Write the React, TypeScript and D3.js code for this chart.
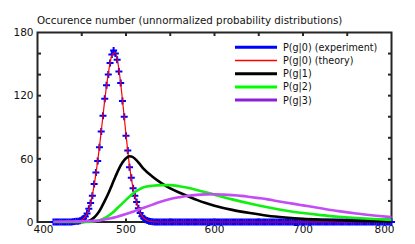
import React from "react";
import * as d3 from "d3";

// ---------- data ----------
const expStart = 418;
const expStep = 2;
const expValues = [
  0, 0, 0, 0, 0, 0, 0, 0, 0, 0, 0,
  0.3, 0.4, 0.6, 0.8, 1.3, 2.1, 3.3, 5.2, 8, 12.5,
  18, 25, 36, 47, 58, 71, 86, 101, 117, 130,
  140, 151, 159, 163, 160, 154, 143, 132, 115, 100,
  82, 68, 52, 42, 32, 25, 19, 13, 8.5, 5.5,
  3.5, 2.2, 1.4, 0.8, 0.5, 0.3, 0.1,
  0, 0, 0, 0, 0, 0, 0, 0, 0, 0, 0, 0, 0, 0, 0, 0, 0, 0, 0, 0,
  0, 0, 0, 0, 0, 0, 0, 0, 0, 0, 0, 0, 0, 0, 0, 0, 0, 0, 0, 0,
  0, 0, 0, 0, 0, 0, 0, 0, 0, 0, 0, 0, 0, 0, 0, 0, 0, 0, 0, 0,
  0, 0, 0, 0, 0, 0, 0, 0, 0, 0, 0, 0, 0, 0, 0, 0, 0, 0, 0, 0,
  0, 0, 0, 0, 0, 0, 0, 0, 0, 0, 0, 0, 0, 0, 0, 0, 0, 0, 0, 0,
  0, 0, 0, 0, 0, 0, 0, 0, 0, 0, 0, 0, 0, 0, 0, 0, 0, 0, 0, 0,
  0, 0, 0, 0, 0, 0, 0, 0, 0, 0, 0, 0, 0, 0,
];

const theoryX = [418, 436, 440, 444, 448, 452, 456, 460, 464, 468, 472, 476, 480, 484, 488, 492, 496, 500, 504, 508, 512, 516, 520, 524, 528, 532, 540, 800];
const theoryY = [0, 0, 0.3, 0.6, 1.2, 3.2, 7.8, 18, 35, 58, 86, 116, 141, 158, 161, 145, 116, 83, 53, 32, 18.5, 8.5, 3.6, 1.4, 0.5, 0.1, 0, 0];

const g1X = [418, 452, 456, 460, 464, 468, 472, 476, 480, 484, 488, 492, 496, 500, 504, 508, 512, 516, 520, 530, 540, 550, 560, 570, 580, 590, 600, 620, 640, 660, 680, 700, 720, 740, 760, 780, 800];
const g1Y = [0, 0, 0.6, 1.8, 4.2, 8, 13.5, 20, 27, 35, 43, 50.5, 56.5, 60.5, 62.5, 61.5, 58.5, 54.5, 50.5, 43, 37, 32, 28, 24.5, 21, 18, 15.5, 11.5, 8.5, 6, 4.3, 3, 2.2, 1.6, 1.1, 0.8, 0.6];

const g2X = [418, 455, 460, 465, 470, 475, 480, 485, 490, 495, 500, 505, 510, 515, 520, 530, 540, 550, 560, 570, 580, 590, 600, 620, 640, 660, 680, 700, 720, 740, 760, 780, 800];
const g2Y = [0, 0.1, 0.3, 0.8, 1.6, 3.3, 5.8, 9, 13, 17, 21, 25, 28.5, 31, 33, 34.5, 35, 35, 34, 32.5, 30.5, 28.3, 26, 21.5, 17.5, 14, 11, 8.5, 6.5, 5, 3.8, 2.8, 2];

const g3X = [418, 440, 460, 470, 480, 490, 500, 510, 520, 530, 540, 550, 560, 570, 580, 590, 600, 610, 620, 630, 640, 650, 660, 670, 680, 690, 700, 720, 740, 760, 780, 800];
const g3Y = [0.2, 0.5, 1, 1.5, 3, 5, 7.5, 10.5, 13.5, 16.5, 19.5, 21.8, 23.5, 25, 25.8, 26.2, 26.3, 26, 25.5, 24.8, 23.8, 22.7, 21.5, 20, 18.6, 17.2, 15.8, 13, 10.3, 8, 6.2, 4.6];

const xTickLabels = [400, 500, 600, 700, 800];
const yTickLabels = [0, 60, 120, 180];
const xMinorTicks = [450, 500, 550, 600, 650, 700, 750];
const yMinorTicks = [20, 40, 60, 80, 100, 120, 140, 160];

const legendLabels = ["P(g|0) (experiment)", "P(g|0) (theory)", "P(g|1)", "P(g|2)", "P(g|3)"];
const legendColors = ["#0000ff", "#ff0000", "#000000", "#00ff00", "#8f1fd6"];
const legendWidths = [3, 1.5, 3, 3, 3];

const title = "Occurence number (unnormalized probability distributions)";

// ---------- layout ----------
const W = 415;
const H = 244;
const L = 37.5;
const R = 391.5;
const T = 32.5;
const B = 222;
const FONT = "DejaVu Sans, sans-serif";
const AXC = "#262626";

export default function App() {
  const x = d3.scaleLinear().domain([400, 800]).range([L, R]);
  const y = d3.scaleLinear().domain([0, 180]).range([B, T]);

  const line = d3
    .line<[number, number]>()
    .x((d) => x(d[0]))
    .y((d) => y(d[1]))
    .curve(d3.curveMonotoneX);

  const expPts: [number, number][] = expValues.map((v, i) => [expStart + i * expStep, v]);
  const zip = (xs: number[], ys: number[]) => xs.map((v, i) => [v, ys[i]] as [number, number]);

  const series = [
    { pts: zip(g1X, g1Y), color: "#000000", w: 2.6 },
    { pts: zip(g2X, g2Y), color: "#10f010", w: 2.6 },
    { pts: zip(g3X, g3Y), color: "#c44cf4", w: 2.6 },
  ];

  const ms = 3.5;

  return (
    <svg
      width={W}
      height={H}
      style={{ position: "absolute", left: 0, top: 0, background: "#fff" }}
      fontFamily={FONT}
    >
      <rect x={0} y={0} width={W} height={H} fill="#fff" />
      <text x={L - 0.5} y={24} fontSize={10.3} fill="#111">
        {title}
      </text>

      {/* axes box */}
      <rect x={L} y={T} width={R - L} height={B - T} fill="none" stroke={AXC} strokeWidth={2} />
      {xMinorTicks.map((t) => (
        <g key={"xt" + t}>
          <line x1={x(t)} x2={x(t)} y1={T} y2={T + 3.5} stroke={AXC} strokeWidth={2} />
          <line x1={x(t)} x2={x(t)} y1={B} y2={B - 3.5} stroke={AXC} strokeWidth={2} />
        </g>
      ))}
      {yMinorTicks.map((t) => (
        <g key={"yt" + t}>
          <line x1={L} x2={L + 3.5} y1={y(t)} y2={y(t)} stroke={AXC} strokeWidth={2} />
          <line x1={R} x2={R - 3.5} y1={y(t)} y2={y(t)} stroke={AXC} strokeWidth={2} />
        </g>
      ))}

      {yTickLabels.map((t) => (
        <text key={"yl" + t} x={33.5} y={y(t)} dy="0.36em" textAnchor="end" fontSize={10.5} fill="#111">
          {t}
        </text>
      ))}
      {xTickLabels.map((t, i) => (
        <text
          key={"xl" + t}
          x={x(t) + (i === 0 ? 6 : i === xTickLabels.length - 1 ? -7 : 0)}
          y={233}
          textAnchor="middle"
          fontSize={10.5}
          fill="#111"
        >
          {t}
        </text>
      ))}

      {/* experiment markers */}
      <g stroke="#0000ff" strokeWidth={2}>
        {expPts.map((p, i) => (
          <path
            key={"m" + i}
            d={`M${x(p[0]) - ms},${y(p[1])}H${x(p[0]) + ms}M${x(p[0])},${y(p[1]) - ms}V${y(p[1]) + ms}`}
          />
        ))}
      </g>
      {/* theory */}
      <path d={line(zip(theoryX, theoryY)) || ""} fill="none" stroke="#ff0000" strokeWidth={1.2} />
      {series.map((s, i) => (
        <path key={"s" + i} d={line(s.pts) || ""} fill="none" stroke={s.color} strokeWidth={s.w} />
      ))}

      {/* legend */}
      {legendLabels.map((lab, i) => {
        const ly = 47.3 + i * 13.2;
        return (
          <g key={"lg" + i}>
            <line x1={235} x2={277} y1={ly} y2={ly} stroke={legendColors[i]} strokeWidth={legendWidths[i]} />
            <text x={283} y={ly} dy="0.36em" fontSize={9.6} fill="#111">
              {lab}
            </text>
          </g>
        );
      })}
    </svg>
  );
}
